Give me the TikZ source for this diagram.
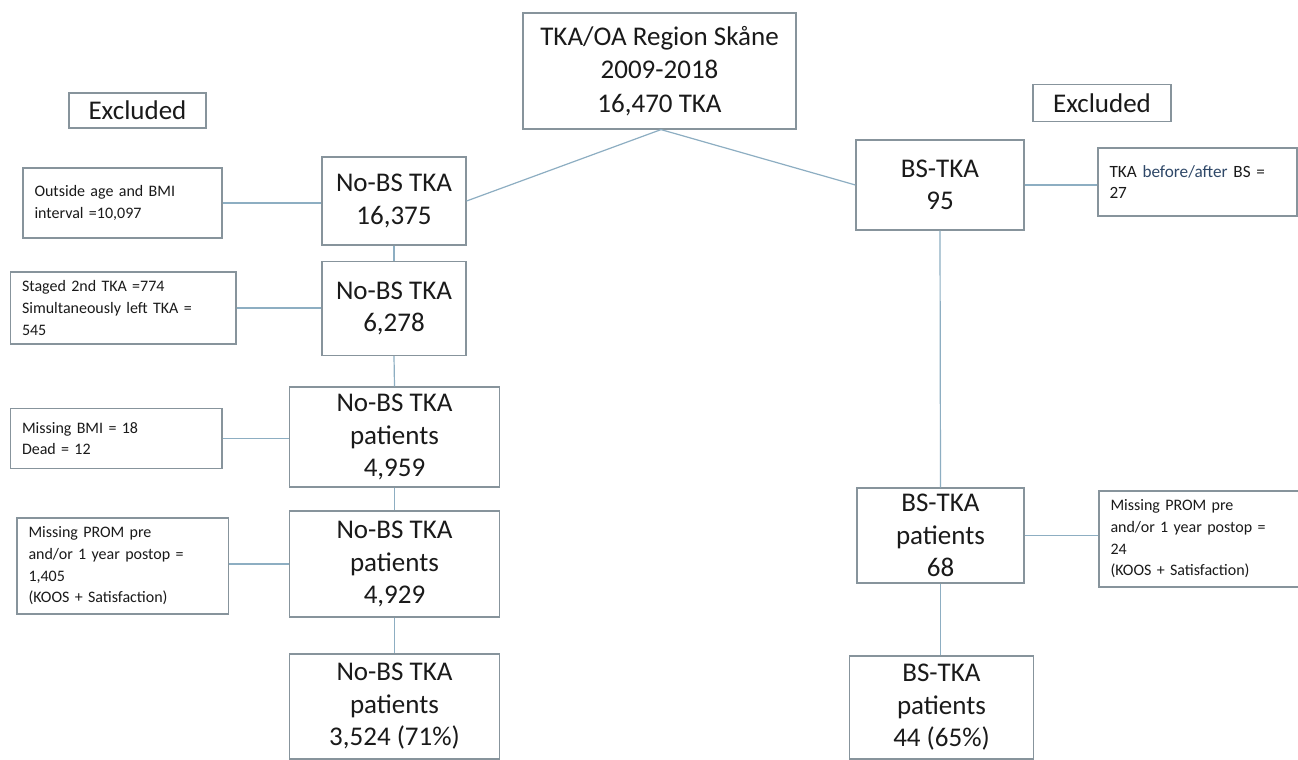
\documentclass[tikz,border=0pt]{standalone}
\usepackage{fontspec}
\setmainfont{Carlito}
\definecolor{boxc}{HTML}{87949C}
\definecolor{linec}{HTML}{8DAEC2}
\definecolor{txt}{HTML}{1A1A1A}
\definecolor{navyt}{HTML}{2F4868}
\begin{document}
\begin{tikzpicture}[x=1pt,y=-1pt,
  mainbox/.style={draw=boxc, line width=1.2pt, inner sep=0pt, align=center, text=txt,
    font=\fontsize{27}{32.5}\selectfont},
  exbox/.style={draw=boxc, line width=1.2pt, inner xsep=11.5pt, inner ysep=0pt, align=left, text=txt,
    font=\fontsize{16}{21.7}\selectfont},
  conn/.style={draw=linec, line width=1.2pt}]
\useasboundingbox (0,0) rectangle (1298,760);
\fill[white] (0,0) rectangle (1298,760);

% main boxes
\node[mainbox, minimum width=273, minimum height=116, font=\fontsize{27}{33.5}\selectfont] (top) at (659.5,71) {TKA/OA Region Skåne\\2009-2018\\16,470 TKA};
\node[mainbox, minimum width=137, minimum height=35] (exL) at (137.5,110.5) {Excluded};
\node[mainbox, minimum width=138, minimum height=37] (exR) at (1102,103) {Excluded};

\node[mainbox, minimum width=144, minimum height=88] (nb1) at (394,201) {No-BS TKA\\16,375};
\node[mainbox, minimum width=144, minimum height=94] (nb2) at (394,308.5) {No-BS TKA\\6,278};
\node[mainbox, minimum width=210, minimum height=100] (nb3) at (394.5,437) {No-BS TKA\\patients\\4,959};
\node[mainbox, minimum width=210, minimum height=106] (nb4) at (394.5,564) {No-BS TKA\\patients\\4,929};
\node[mainbox, minimum width=210, minimum height=105] (nb5) at (394.5,706.5) {No-BS TKA\\patients\\3,524 (71\%)};

\node[mainbox, minimum width=168, minimum height=90] (bs1) at (940,185) {BS-TKA\\95};
\node[mainbox, minimum width=167, minimum height=95] (bs2) at (940.5,535.5) {BS-TKA\\patients\\68};
\node[mainbox, minimum width=184, minimum height=103] (bs3) at (941.5,707.5) {BS-TKA\\patients\\44 (65\%)};

% exclusion boxes
\node[exbox, text width=176, minimum height=70] (ex1) at (122.5,203) {Outside age and BMI\\interval =10,097};
\node[exbox, text width=202.5, minimum height=72] (ex2) at (123.25,308) {Staged 2nd TKA =774\\Simultaneously left TKA =\\545};
\node[exbox, text width=188.5, minimum height=60] (ex3) at (116.25,438.5) {Missing BMI = 18\\Dead = 12};
\node[exbox, text width=188.5, minimum height=96] (ex4) at (122.75,566) {Missing PROM pre\\and/or 1 year postop =\\1,405\\(KOOS + Satisfaction)};
\node[exbox, text width=176, minimum height=68, font=\fontsize{17.2}{21.5}\selectfont] (ex5) at (1197.5,182) {TKA \textcolor{navyt}{before/after} BS =\\27\\[-6pt]};
\node[exbox, text width=180, minimum height=96] (ex6) at (1200.5,539) {Missing PROM pre\\and/or 1 year postop =\\24\\(KOOS + Satisfaction)};

% connectors
\coordinate (tj) at ([xshift=1.5pt]top.south);
\draw[conn] (nb1.east) -- (tj) -- (bs1.west);
\draw[conn] (ex1.east) -- (ex1.east -| nb1.west);
\draw[conn] (ex2.east) -- (ex2.east -| nb2.west);
\draw[conn] (ex3.east) -- (ex3.east -| nb3.west);
\draw[conn] (nb4.west) -- (nb4.west -| ex4.east);
\draw[conn] (bs1.east) -- (bs1.east -| ex5.west);
\draw[conn] (bs2.east) -- (bs2.east -| ex6.west);
\draw[conn] (nb1.south) -- (nb2.north);
\draw[conn] (nb2.south) -- (nb3.north);
\draw[conn] (nb3.south) -- (nb4.north);
\draw[conn] (nb4.south) -- (nb5.north);
\draw[conn] (bs1.south) -- (bs2.north);
\draw[conn] (bs2.south) -- (bs2.south |- bs3.north);
\end{tikzpicture}
\end{document}
